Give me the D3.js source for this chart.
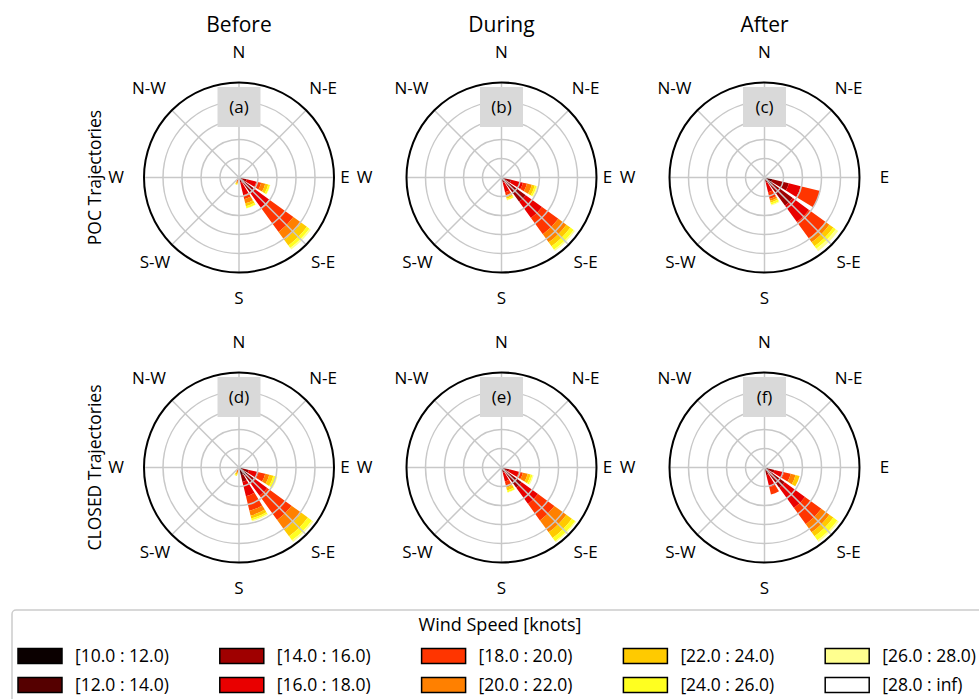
<!DOCTYPE html>
<html>
<head>
<meta charset="utf-8">
<script src="https://cdn.jsdelivr.net/npm/d3@7"></script>
<style>
  body { margin: 0; background: #fff; }
  svg { display: block; font-family: "Open Sans", "Noto Sans", sans-serif; }
</style>
</head>
<body>
<svg id="chart" width="979" height="699"></svg>
<script>
// Column titles (period) and row titles (trajectory group)
const periods = ["Before", "During", "After"];
const groups = ["POC Trajectories", "CLOSED Trajectories"];
const panelTags = ["(a)", "(b)", "(c)", "(d)", "(e)", "(f)"];

// Compass directions of the rose sectors (16-sector rose, degrees from north)
const sectorAngles = [112.5, 135, 157.5, 202.5];

// Wind speed classes
const speedBins = ["[10.0 : 12.0)", "[12.0 : 14.0)", "[14.0 : 16.0)", "[16.0 : 18.0)", "[18.0 : 20.0)",
                   "[20.0 : 22.0)", "[22.0 : 24.0)", "[24.0 : 26.0)", "[26.0 : 28.0)", "[28.0 : inf)"];

// Frequency (%) per speed class, one row per sector in sectorAngles order
const panelA = [
  [0.3, 0.5, 1.3, 2.6, 1.3, 1.1, 0.8, 0.5, 0.1, 0],
  [0.5, 1.1, 3.2, 5.0, 7.9, 2.6, 1.8, 0.8, 0.5, 0],
  [0.3, 0.3, 0.8, 3.4, 1.1, 1.1, 0.8, 0.5, 0.1, 0],
  [0, 0, 0, 0.6, 0.5, 0.4, 0.3, 0.2, 0, 0]
];
const panelB = [
  [0.3, 0.5, 1.8, 3.2, 1.1, 1.3, 0.8, 0.5, 0.3, 0],
  [0.5, 1.1, 6.3, 5.3, 5.3, 2.6, 1.3, 1.1, 0.4, 0],
  [0.3, 0.3, 0.8, 2.6, 0.8, 0.5, 0.4, 0.4, 0.1, 0],
  [0, 0, 0, 0, 0, 0, 0, 0, 0, 0]
];
const panelC = [
  [0.5, 1.6, 4.5, 3.2, 5.3, 0, 0, 0, 0, 0],
  [0.8, 1.8, 6.6, 5.3, 5.3, 1.3, 1.3, 0.8, 0.8, 0],
  [0.3, 0.3, 0.8, 2.6, 1.8, 0.5, 0.5, 0.5, 0.3, 0],
  [0, 0, 0, 0, 0, 0, 0, 0, 0, 0]
];
const panelD = [
  [0.3, 0.8, 1.6, 2.6, 1.8, 1.1, 1.1, 0.8, 0.3, 0],
  [1.1, 1.6, 2.6, 3.9, 7.9, 3.2, 2.1, 1.3, 0.5, 0],
  [0.8, 1.3, 1.8, 3.9, 3.9, 1.3, 0.8, 0.5, 0.3, 0],
  [0, 0, 0, 0.5, 0.5, 0.5, 0.5, 0.3, 0, 0]
];
const panelE = [
  [0.3, 0.5, 1.3, 2.6, 1.1, 1.3, 0.8, 0.5, 0.3, 0],
  [0.5, 1.1, 5.0, 5.3, 5.3, 3.9, 1.8, 1.1, 0.3, 0],
  [0.3, 0.3, 0.8, 2.4, 1.1, 0.5, 0.8, 0.5, 0.1, 0],
  [0, 0, 0, 0, 0, 0, 0, 0, 0, 0]
];
const panelF = [
  [0.3, 0.8, 1.6, 2.6, 1.8, 1.3, 1.1, 0, 0, 0],
  [0.5, 1.1, 5.0, 6.6, 5.3, 2.6, 1.3, 1.3, 0.5, 0],
  [0.3, 0.5, 1.3, 3.2, 2.0, 0, 0, 0, 0, 0],
  [0, 0, 0, 0, 0, 0, 0, 0, 0, 0]
];
const panels = [panelA, panelB, panelC, panelD, panelE, panelF];

// Radial grid (frequency %)
const radialTicks = [5, 10, 15, 20];
const radialMax = 25;

// Compass labels every 45 degrees
const compassLabels = ["N", "N-E", "E", "S-E", "S", "S-W", "W", "N-W"];

// ---- styling ----
const palette = ["#0b0000", "#550000", "#9f0000", "#e90000", "#ff3500",
                 "#ff8000", "#ffca00", "#ffff20", "#ffff8f", "#ffffff"];
const colX = [239, 501.5, 764.5];
const rowY = [177.5, 467.5];
const R = 95;
const opening = 0.8;
const sectorWidth = 360 / 16;

const svg = d3.select("#chart");
const rScale = d3.scaleLinear().domain([0, radialMax]).range([0, R]);
const rad = d => d * Math.PI / 180;
const arc = d3.arc();

// Label offsets around each rose (dx, dy from centre)
const labelPos = {
  "N": [0, -125], "N-E": [84, -89], "E": [120, 0], "S-E": [84, 85],
  "S": [0, 121], "S-W": [-84, 85], "W": [-123, 0], "N-W": [-90, -89]
};
// neighbouring roses share the gap between them, so their E / W labels sit closer together
const eastOffset = [106, 106, 120];
const westOffset = [-123, -137, -137];

panels.forEach((rows, pi) => {
  const col = pi % 3, row = Math.floor(pi / 3);
  const g = svg.append("g").attr("transform", `translate(${colX[col]},${rowY[row]})`);

  // stacked bars for each sector
  rows.forEach((vals, si) => {
    const a = sectorAngles[si];
    const half = sectorWidth * opening / 2;
    let acc = 0;
    vals.forEach((v, bi) => {
      if (v <= 0) return;
      g.append("path")
        .attr("d", arc({
          innerRadius: rScale(acc),
          outerRadius: rScale(acc + v),
          startAngle: rad(a - half),
          endAngle: rad(a + half)
        }))
        .attr("fill", palette[bi]);
      acc += v;
    });
  });

  // grid circles and spokes over the bars
  radialTicks.forEach(t => {
    g.append("circle").attr("r", rScale(t))
      .attr("fill", "none").attr("stroke", "#c8c8c8").attr("stroke-width", 1.5);
  });
  d3.range(0, 360, 45).forEach(a => {
    g.append("line")
      .attr("x1", 0).attr("y1", 0)
      .attr("x2", R * Math.sin(rad(a))).attr("y2", -R * Math.cos(rad(a)))
      .attr("stroke", "#c8c8c8").attr("stroke-width", 1.5);
  });
  g.append("circle").attr("r", R)
    .attr("fill", "none").attr("stroke", "#000").attr("stroke-width", 2);

  // panel tag
  g.append("rect").attr("x", -21.5).attr("y", -90.5).attr("width", 43).attr("height", 40)
    .attr("fill", "#d9d9d9");
  g.append("text").attr("x", 0).attr("y", -70.5).attr("dy", "0.35em")
    .attr("text-anchor", "middle").attr("font-size", 17).text(panelTags[pi]);

  // compass labels
  compassLabels.forEach(lbl => {
    let p = labelPos[lbl];
    if (lbl === "E") p = [eastOffset[col], 0];
    if (lbl === "W") p = [westOffset[col], 0];
    g.append("text").attr("x", p[0]).attr("y", p[1]).attr("dy", "0.35em")
      .attr("text-anchor", "middle").attr("font-size", 17).text(lbl);
  });
});

// column titles
periods.forEach((t, i) => {
  svg.append("text").attr("x", colX[i]).attr("y", 25).attr("dy", "0.35em")
    .attr("text-anchor", "middle").attr("font-size", 21).text(t);
});

// row titles
groups.forEach((t, i) => {
  svg.append("text")
    .attr("transform", `translate(95,${rowY[i]}) rotate(-90)`)
    .attr("dy", "0.35em").attr("text-anchor", "middle").attr("font-size", 17.5).text(t);
});

// legend
const lg = svg.append("g");
lg.append("rect").attr("x", 12).attr("y", 610).attr("width", 980).attr("height", 100)
  .attr("rx", 4).attr("fill", "#fff").attr("stroke", "#cccccc").attr("stroke-width", 1.5);
lg.append("text").attr("x", 500).attr("y", 625).attr("dy", "0.35em")
  .attr("text-anchor", "middle").attr("font-size", 18).text("Wind Speed [knots]");
speedBins.forEach((lbl, i) => {
  const c = Math.floor(i / 2), r = i % 2;
  const x = 18 + c * 201.8, y = 656 + r * 29;
  lg.append("rect").attr("x", x).attr("y", y - 7.5).attr("width", 44).attr("height", 15)
    .attr("fill", palette[i]).attr("stroke", "#000").attr("stroke-width", 1.5);
  lg.append("text").attr("x", x + 57).attr("y", y).attr("dy", "0.35em")
    .attr("font-size", 17.5).text(lbl);
});
</script>
</body>
</html>
